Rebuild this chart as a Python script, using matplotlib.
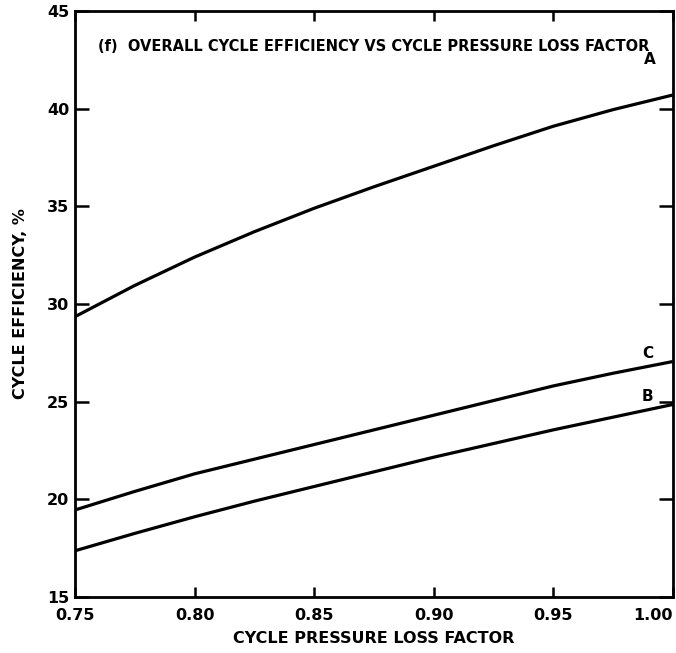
import numpy as np
import matplotlib
matplotlib.use('Agg')
import matplotlib.pyplot as plt

plt.rc('font', family='DejaVu Sans', weight='bold')
plt.rc('axes', labelweight='bold')

# pressure loss factor
x = [0.75, 0.775, 0.80, 0.825, 0.85, 0.875, 0.90, 0.925, 0.95, 0.975, 1.00]
# cycle efficiency, %
effA = [29.35, 30.95, 32.4, 33.7, 34.9, 36.0, 37.05, 38.1, 39.1, 39.95, 40.7]
effB = [17.36, 18.25, 19.1, 19.9, 20.65, 21.4, 22.15, 22.85, 23.55, 24.2, 24.85]
effC = [19.45, 20.4, 21.3, 22.05, 22.8, 23.55, 24.3, 25.05, 25.8, 26.45, 27.05]

xticks = [0.75, 0.80, 0.85, 0.90, 0.95, 1.00]
xticklabels = ['0.75', '0.80', '0.85', '0.90', '0.95', '1.00']
yticks = [15, 20, 25, 30, 35, 40, 45]

fig = plt.figure(figsize=(6.76, 6.53), dpi=100)
ax = fig.add_axes([0.111, 0.086, 0.884, 0.897])

for yv in (effA, effB, effC):
  ax.plot(x, yv, color='black', lw=2.3, solid_capstyle='butt', solid_joinstyle='round')

ax.text(0.9905, 42.5, 'A', ha='center', va='center', fontsize=11)
ax.text(0.9895, 27.45, 'C', ha='center', va='center', fontsize=11)
ax.text(0.9895, 25.25, 'B', ha='center', va='center', fontsize=11)

ax.text(0.5, 0.94, '(f)  OVERALL CYCLE EFFICIENCY VS CYCLE PRESSURE LOSS FACTOR',
        transform=ax.transAxes, ha='center', va='center', fontsize=10.5)

ax.set_xlim(0.75, 0.9985)
ax.set_ylim(15, 45)
ax.set_xticks(xticks)
ax.set_xticklabels(xticklabels)
ax.get_xticklabels()[-1].set_horizontalalignment('right')
ax.set_yticks(yticks)
ax.tick_params(axis='both', direction='in', top=True, right=True,
               labelsize=11.5, width=1.8)
ax.tick_params(axis='y', length=10, pad=4)
ax.tick_params(axis='x', length=7, pad=8)
for s in ax.spines.values():
  s.set_linewidth(2.0)

ax.set_xlabel('CYCLE PRESSURE LOSS FACTOR', fontsize=11.5, labelpad=6)
ax.set_ylabel('CYCLE EFFICIENCY, %', fontsize=11.5, labelpad=14)

fig.savefig('out.png', dpi=100)
